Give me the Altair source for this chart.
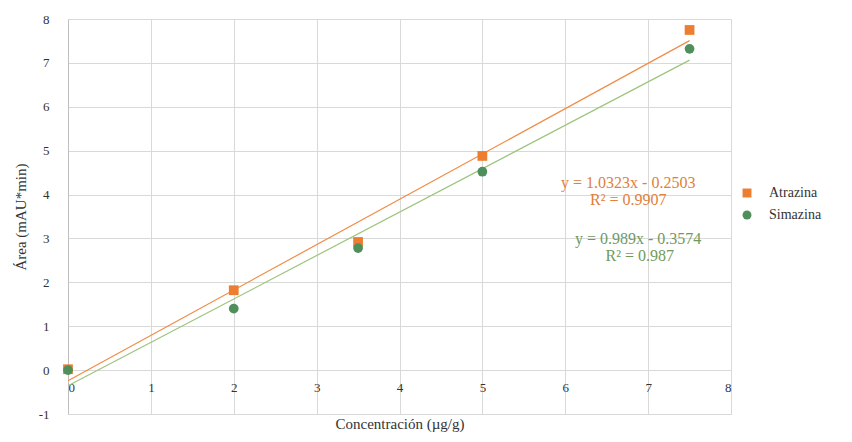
import altair as alt
import pandas as pd

# ---- data ----
conc = [0, 2, 3.5, 5, 7.5]
atrazina = [0.02, 1.82, 2.92, 4.88, 7.75]
simazina = [0.0, 1.40, 2.78, 4.52, 7.32]
series = ["Atrazina", "Simazina"]
marker_colors = ["#ED7D31", "#4E8F5B"]
line_colors = ["#F08C45", "#9DC47C"]
shapes = ["square", "circle"]
x_ticks = [0, 1, 2, 3, 4, 5, 6, 7, 8]
y_ticks = [-1, 0, 1, 2, 3, 4, 5, 6, 7, 8]

eq_labels = ["y = 1.0323x - 0.2503", "R² = 0.9907", "y = 0.989x - 0.3574", "R² = 0.987"]
eq_series = ["Atrazina", "Atrazina", "Simazina", "Simazina"]
eq_x = [6.76, 6.76, 6.88, 6.90]
eq_y = [4.26, 3.87, 2.98, 2.60]

FONT = "Liberation Serif"

points = pd.DataFrame({
    "conc": conc * 2,
    "area": atrazina + simazina,
    "serie": [series[0]] * len(conc) + [series[1]] * len(conc),
})
eqs = pd.DataFrame({"label": eq_labels, "serie": eq_series, "x": eq_x, "y": eq_y})

xscale = alt.Scale(domain=[0, 8], nice=False, zero=False)
yscale = alt.Scale(domain=[-1, 8], nice=False, zero=False)

x_axis = alt.Axis(values=x_ticks, offset=-44, domain=False, ticks=False, grid=True,
                  gridColor="#d9d9d9", labelPadding=11, labelExpr="'' + datum.value",
                  title="Concentración (µg/g)", titleY=53, titleBaseline="middle")
y_axis = alt.Axis(values=y_ticks, domain=True, domainColor="#bfbfbf", ticks=False, grid=True,
                  gridColor="#d9d9d9", labelPadding=19, labelExpr="'' + datum.value",
                  title="Área (mAU*min)", titlePadding=10)

base = alt.Chart(points)

trend = base.transform_regression(
    "conc", "area", groupby=["serie"], extent=[0, 7.5]
).mark_line(strokeWidth=1.2).encode(
    x=alt.X("conc:Q", scale=xscale, axis=x_axis),
    y=alt.Y("area:Q", scale=yscale, axis=y_axis),
    color=alt.Color("serie:N", scale=alt.Scale(domain=series, range=line_colors), legend=None),
    detail="serie:N",
)

pts = base.mark_point(filled=True, opacity=1, size=95).encode(
    x=alt.X("conc:Q", scale=xscale),
    y=alt.Y("area:Q", scale=yscale),
    fill=alt.Fill("serie:N", scale=alt.Scale(domain=series, range=marker_colors),
                  legend=alt.Legend(title=None, orient="none", legendX=672, legendY=167,
                                    symbolSize=80, symbolStrokeWidth=0, rowPadding=8,
                                    labelOffset=15)),
    shape=alt.Shape("serie:N", scale=alt.Scale(domain=series, range=shapes)),
)

texts = alt.Chart(eqs).mark_text(font=FONT, fontSize=16, align="center", baseline="middle").encode(
    x=alt.X("x:Q", scale=xscale),
    y=alt.Y("y:Q", scale=yscale),
    text="label:N",
    color=alt.Color("serie:N", scale=alt.Scale(domain=series, range=["#E0803C", "#6F9A5C"]),
                    legend=None),
)

chart = alt.layer(trend, pts, texts).resolve_scale(color="independent").properties(
    width=663, height=395,
    autosize=alt.AutoSizeParams(type="none"),
    padding={"left": 60, "top": 11, "right": 113, "bottom": 20},
    background="white",
).configure_view(stroke=None).configure_axis(
    labelFont=FONT, labelFontSize=13, labelColor="#333333",
    titleFont=FONT, titleFontSize=15, titleFontWeight="normal", titleColor="#333333",
).configure_legend(
    labelFont=FONT, labelFontSize=14, labelColor="#333333",
)

chart.save("out.html", embed_options={"renderer": "svg", "actions": False})
